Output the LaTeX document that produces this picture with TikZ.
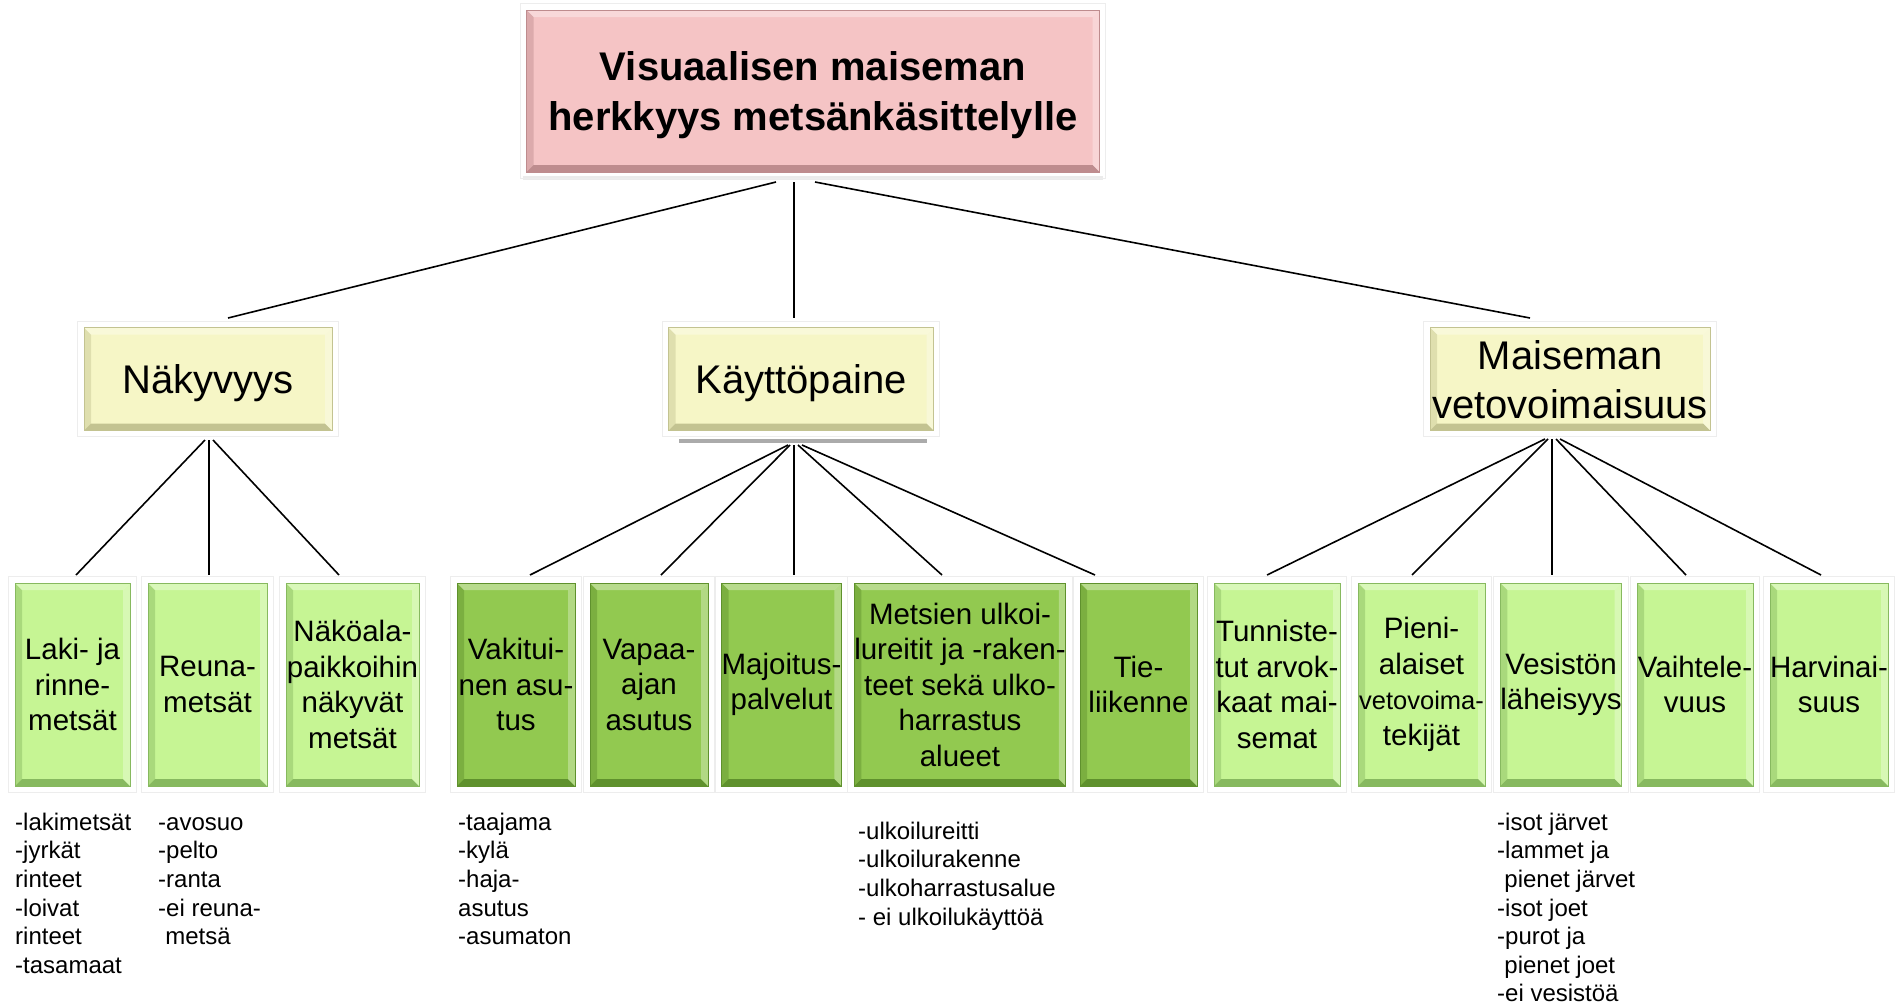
\documentclass[tikz,border=0pt]{standalone}
\usepackage{fontspec}
\setmainfont{Liberation Sans}
\definecolor{pinkfill}{RGB}{245,196,197}
\definecolor{pinkdark}{RGB}{190,140,142}
\definecolor{yelfill}{RGB}{246,246,198}
\definecolor{yeldark}{RGB}{195,195,145}
\definecolor{lgfill}{RGB}{198,245,148}
\definecolor{lgdark}{RGB}{135,185,95}
\definecolor{dgfill}{RGB}{146,201,80}
\definecolor{dgdark}{RGB}{95,145,45}
\tikzset{
  bevelbox/.style 2 args={rectangle, fill=#1, draw=#2, line width=0.8pt, align=center, inner sep=0pt,
    path picture={
      \fill[#2] (path picture bounding box.south west) -- (path picture bounding box.south east)
        -- ([xshift=-7pt,yshift=7pt]path picture bounding box.south east)
        -- ([xshift=7pt,yshift=7pt]path picture bounding box.south west) -- cycle;
      \fill[#2,opacity=0.45] (path picture bounding box.south west) -- (path picture bounding box.north west)
        -- ([xshift=7pt,yshift=-7pt]path picture bounding box.north west)
        -- ([xshift=7pt,yshift=7pt]path picture bounding box.south west) -- cycle;
      \fill[white,opacity=0.35] (path picture bounding box.north west) -- (path picture bounding box.north east)
        -- ([xshift=-7pt,yshift=-7pt]path picture bounding box.north east)
        -- ([xshift=7pt,yshift=-7pt]path picture bounding box.north west) -- cycle;
      \fill[white,opacity=0.3] (path picture bounding box.north east) -- (path picture bounding box.south east)
        -- ([xshift=-7pt,yshift=7pt]path picture bounding box.south east)
        -- ([xshift=-7pt,yshift=-7pt]path picture bounding box.north east) -- cycle;
    }},
  rootbox/.style={bevelbox={pinkfill}{pinkdark}, minimum width=573pt, minimum height=162pt,
    text depth=0pt, font=\fontsize{40}{50}\selectfont\bfseries},
  midbox/.style={bevelbox={yelfill}{yeldark}, minimum height=103pt, text depth=0pt,
    font=\fontsize{40}{49}\selectfont},
  leafbox/.style={bevelbox={lgfill}{lgdark}, minimum height=203pt,
    font=\fontsize{29.5}{35.5}\selectfont},
  darkleaf/.style={bevelbox={dgfill}{dgdark}, minimum height=203pt,
    font=\fontsize{29.5}{35.5}\selectfont},
  listtext/.style={anchor=north west, align=left, inner sep=0pt,
    font=\fontsize{24}{28.6}\selectfont},
  conn/.style={draw=black, line width=1.6pt},
  glow/.style={draw=black!7, line width=1pt}
}
\begin{document}
\begin{tikzpicture}[x=1pt,y=-1pt]
\useasboundingbox (0,0) rectangle (1901,1005);
\fill[white] (0,0) rectangle (1901,1005);

% root
\node[rootbox] (root) at (813,91) {Visuaalisen maiseman\\herkkyys metsänkäsittelylle};
\fill[black!8] (523,176) rectangle (1103,180);

% level 2
\node[midbox, minimum width=248pt] (nak) at (208,379) {Näkyvyys};
\node[midbox, minimum width=265pt] (kay) at (801,379) {Käyttöpaine};
\node[midbox, minimum width=280pt] (mai) at (1570,379) {Maiseman\\vetovoimaisuus};
\fill[black!33] (679,439) rectangle (927,443);

% level 3
\node[leafbox, minimum width=115pt] (a1) at (72.5,684.5) {Laki- ja\\rinne-\\metsät};
\node[leafbox, minimum width=119pt] (a2) at (207.5,684.5) {Reuna-\\metsät};
\node[leafbox, minimum width=133pt] (a3) at (352.5,684.5) {Näköala-\\paikkoihin\\näkyvät\\metsät};
\node[darkleaf, minimum width=118pt] (b1) at (516,684.5) {Vakitui-\\nen asu-\\tus};
\node[darkleaf, minimum width=118pt] (b2) at (649,684.5) {Vapaa-\\ajan\\asutus};
\node[darkleaf, minimum width=117pt] (b3) at (781.5,684.5) {Majoitus-\\palvelut};
\node[darkleaf, minimum width=208pt] (b4) at (960,684.5) {Metsien ulkoi-\\lureitit ja -raken-\\teet sekä ulko-\\harrastus\\alueet};
\node[darkleaf, minimum width=117pt] (b5) at (1138.5,684.5) {Tie-\\liikenne};
\node[leafbox, minimum width=126pt] (c1) at (1277,684.5) {Tunniste-\\tut arvok-\\kaat mai-\\semat};
\node[leafbox, minimum width=127pt] (c2) at (1421.5,684.5) {Pieni-\\alaiset\\{\fontsize{25.5}{35.5}\selectfont vetovoima-}\\tekijät};
\node[leafbox, minimum width=116pt] (c3) at (1561,684.5) {Vesistön\\läheisyys};
\node[leafbox, minimum width=116pt] (c4) at (1695,684.5) {Vaihtele-\\vuus};
\node[leafbox, minimum width=118pt] (c5) at (1829,684.5) {Harvinai-\\suus};

% faint glow frames
\foreach \n in {root,nak,kay,mai,a1,a2,a3,b1,b2,b3,b4,b5,c1,c2,c3,c4,c5}{
  \draw[glow] ([xshift=-6pt,yshift=6pt]\n.north west) rectangle ([xshift=6pt,yshift=-6pt]\n.south east);
}

% connector end points
\coordinate (r1) at (776,182); \coordinate (r2) at (794,182); \coordinate (r3) at (815,182);
\coordinate (nakT) at (228,318); \coordinate (kayT) at (794,318); \coordinate (maiT) at (1530,318);
\coordinate (nakB1) at (205,440); \coordinate (nakB2) at (209,440); \coordinate (nakB3) at (213,440);
\coordinate (kayB1) at (788,445); \coordinate (kayB2) at (790,445); \coordinate (kayB3) at (794,445);
\coordinate (kayB4) at (798,445); \coordinate (kayB5) at (802,445);
\coordinate (maiB1) at (1545,439); \coordinate (maiB2) at (1548,439); \coordinate (maiB3) at (1552,439);
\coordinate (maiB4) at (1556,439); \coordinate (maiB5) at (1560,439);
\coordinate (a1T) at (76,575); \coordinate (a2T) at (209,575); \coordinate (a3T) at (339,575);
\coordinate (b1T) at (530,575); \coordinate (b2T) at (661,575); \coordinate (b3T) at (794,575);
\coordinate (b4T) at (942,575); \coordinate (b5T) at (1095,575);
\coordinate (c1T) at (1267,575); \coordinate (c2T) at (1412,575); \coordinate (c3T) at (1552,575);
\coordinate (c4T) at (1686,575); \coordinate (c5T) at (1821,575);

\draw[conn] (r1) -- (nakT);
\draw[conn] (r2) -- (kayT);
\draw[conn] (r3) -- (maiT);
\draw[conn] (nakB1) -- (a1T);
\draw[conn] (nakB2) -- (a2T);
\draw[conn] (nakB3) -- (a3T);
\draw[conn] (kayB1) -- (b1T);
\draw[conn] (kayB2) -- (b2T);
\draw[conn] (kayB3) -- (b3T);
\draw[conn] (kayB4) -- (b4T);
\draw[conn] (kayB5) -- (b5T);
\draw[conn] (maiB1) -- (c1T);
\draw[conn] (maiB2) -- (c2T);
\draw[conn] (maiB3) -- (c3T);
\draw[conn] (maiB4) -- (c4T);
\draw[conn] (maiB5) -- (c5T);

% lists
\node[listtext] (l1) at (15,810) {\strut-lakimetsät\\-jyrkät\\rinteet\\-loivat\\rinteet\\-tasamaat};
\node[listtext] (l2) at (158,810) {\strut-avosuo\\-pelto\\-ranta\\-ei reuna-\\\hspace*{0.3em}metsä};
\node[listtext] (l3) at (458,810) {\strut-taajama\\-kylä\\-haja-\\asutus\\-asumaton};
\node[listtext] (l4) at (858,819) {\strut-ulkoilureitti\\-ulkoilurakenne\\-ulkoharrastusalue\\- ei ulkoilukäyttöä};
\node[listtext] (l5) at (1497,810) {\strut-isot järvet\\-lammet ja\\\hspace*{0.3em}pienet järvet\\-isot joet\\-purot ja\\\hspace*{0.3em}pienet joet\\-ei vesistöä};
\end{tikzpicture}
\end{document}
